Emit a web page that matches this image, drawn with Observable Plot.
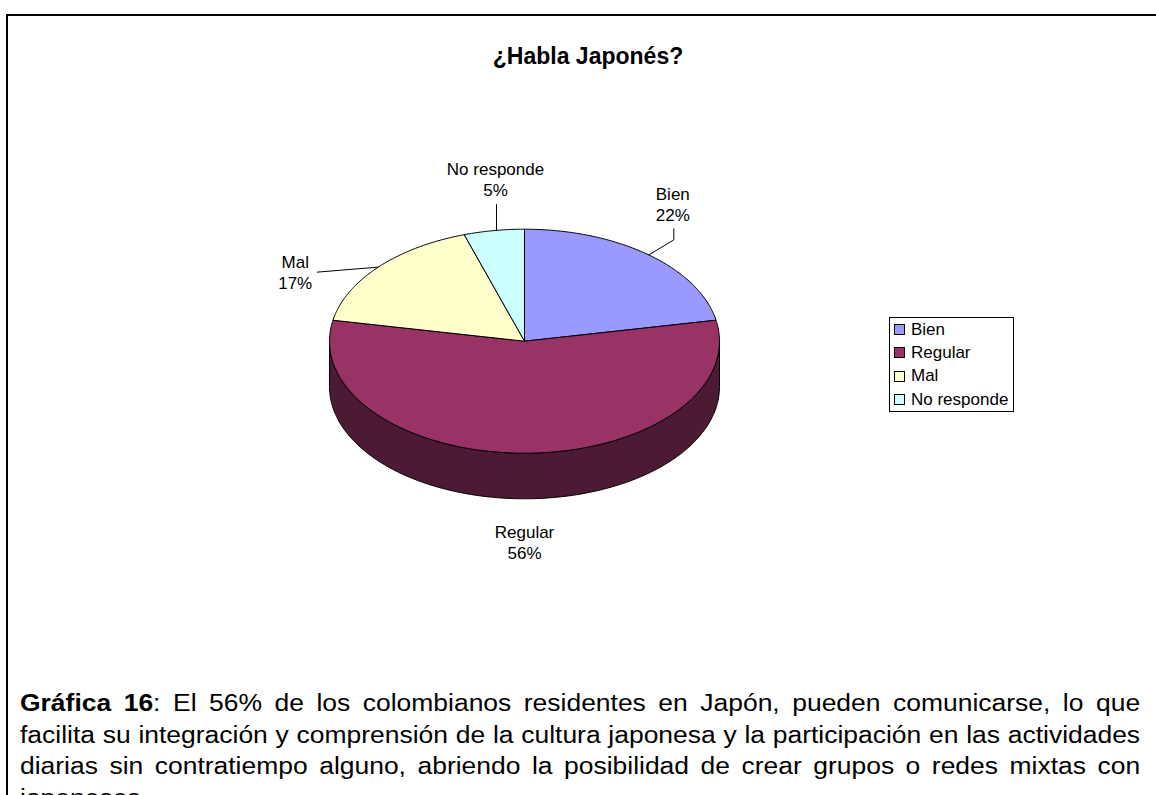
<!DOCTYPE html>
<html>
<head>
<meta charset="utf-8">
<script src="https://cdn.jsdelivr.net/npm/d3@7"></script>
<script src="https://cdn.jsdelivr.net/npm/@observablehq/plot@0.6"></script>
<style>
  html, body { margin: 0; padding: 0; background: #fff; }
  body { width: 1156px; height: 795px; overflow: hidden; position: relative;
         font-family: "Liberation Sans", Arial, Helvetica, sans-serif; color: #000; }
  #chart { position: absolute; left: 0; top: 0; }
  #frame { position: absolute; left: 6px; top: 14px; width: 1200px; height: 900px;
           border-left: 2px solid #000; border-top: 2px solid #000; box-sizing: border-box; }
  #title { position: absolute; left: 388px; width: 400px; top: 43px; text-align: center;
           font-weight: bold; font-size: 23px; line-height: 26px; }
  #legend { position: absolute; left: 889px; top: 317px; width: 125px; border: 1px solid #000;
            box-sizing: border-box; background: #fff; }
  .lg-row { height: 23.3px; display: flex; align-items: center; font-size: 17px; }
  .lg-sw { width: 9px; height: 9px; border: 1px solid #000; margin-left: 4px; margin-right: 6px; }
  #caption { position: absolute; left: 20px; top: 688px; width: 974px; font-size: 23px;
             line-height: 31.5px; transform: scaleX(1.15); transform-origin: 0 0; }
  .cl { text-align: justify; text-align-last: justify; }
  .cl.last { text-align-last: left; }
</style>
</head>
<body>
<div id="chart"></div>
<div id="frame"></div>
<div id="title"></div>
<div id="legend"></div>
<div id="caption"></div>
<script>
// ---- data ----
const chartTitle = "¿Habla Japonés?";
const categories = ["Bien", "Regular", "Mal", "No responde"];
const values = [22, 56, 17, 5];
const colors = ["#9999FF", "#993366", "#FFFFCC", "#CCFFFF"];
const captionBold = "Gráfica 16";
const captionLines = [
  ": El 56% de los colombianos residentes en Japón, pueden comunicarse, lo que",
  "facilita su integración y comprensión de la cultura japonesa y la participación en las actividades",
  "diarias sin contratiempo alguno, abriendo la posibilidad de crear grupos o redes mixtas con",
  "japoneses."
];

// ---- layout (pixel offsets of labels from each slice's mid-angle anchor) ----
const depth = 0.407;            // side height, in y-units of the pie radius
const pxX = 195, pxY = 112;     // pixels per unit radius
const labelLayout = {
  "Bien":        { text: [24, -51],  leader: [[0, 0], [25, -15], [25, -26]] },
  "Regular":     { text: [0, 89],    leader: null },
  "Mal":         { text: [-83, 5],   leader: [[0, 0], [-61, 5]] },
  "No responde": { text: [1.5, -52], leader: [[2.5, 0], [2.5, -26]] }
};

// ---- geometry from values ----
const total = d3.sum(values);
let acc = 0;
const slices = categories.map((c, i) => {
  const a0 = acc / total * 2 * Math.PI;
  acc += values[i];
  const a1 = acc / total * 2 * Math.PI;
  return { name: c, value: values[i], color: colors[i], a0, a1, mid: (a0 + a1) / 2 };
});

function arc(a0, a1, yOff = 0) {
  const n = Math.max(2, Math.ceil((a1 - a0) / 0.01));
  return d3.range(n + 1).map(k => {
    const t = a0 + (a1 - a0) * k / n;
    return { x: Math.sin(t), y: Math.cos(t) - yOff };
  });
}

const marks = [];
// sides (front half only)
for (const s of slices) {
  const lo = Math.max(s.a0, Math.PI / 2), hi = Math.min(s.a1, 3 * Math.PI / 2);
  if (hi > lo) {
    const pts = [...arc(lo, hi), ...arc(lo, hi, depth).reverse()];
    pts.push(pts[0]);
    marks.push(Plot.line(pts, { x: "x", y: "y", fill: d3.interpolateRgb(s.color, "#000")(0.5),
      stroke: "#000", strokeWidth: 1, strokeLinejoin: "round" }));
  }
}
// top faces
for (const s of slices) {
  const pts = [{ x: 0, y: 0 }, ...arc(s.a0, s.a1), { x: 0, y: 0 }];
  marks.push(Plot.line(pts, { x: "x", y: "y", fill: s.color, stroke: "#000",
    strokeWidth: 1, strokeLinejoin: "round" }));
}
// leaders + labels
const labelData = [];
for (const s of slices) {
  const ax = Math.sin(s.mid), ay = Math.cos(s.mid);
  const L = labelLayout[s.name];
  if (L.leader) {
    const pts = L.leader.map(([dx, dy]) => ({ x: ax + dx / pxX, y: ay - dy / pxY }));
    marks.push(Plot.line(pts, { x: "x", y: "y", stroke: "#000", strokeWidth: 1 }));
  }
  labelData.push({ x: ax + L.text[0] / pxX, y: ay - L.text[1] / pxY,
    text: `${s.name}\n${Math.round(s.value / total * 100)}%` });
}
marks.push(Plot.text(labelData, { x: "x", y: "y", text: "text", fontSize: 17,
  lineHeight: 1.23, textAnchor: "middle", lineAnchor: "middle", fill: "#000" }));

const plot = Plot.plot({
  width: 1156, height: 650, margin: 0,
  style: { fontFamily: "'Liberation Sans', Arial, sans-serif", background: "transparent" },
  x: { domain: [-1, 1], range: [329, 719], axis: null },
  y: { domain: [-1, 1], range: [452.7, 228.7], axis: null },
  marks
});
document.getElementById("chart").appendChild(plot);

// title
document.getElementById("title").textContent = chartTitle;

// legend
const lg = document.getElementById("legend");
categories.forEach((c, i) => {
  const row = document.createElement("div"); row.className = "lg-row";
  const sw = document.createElement("div"); sw.className = "lg-sw"; sw.style.background = colors[i];
  const tx = document.createElement("span"); tx.textContent = c;
  row.appendChild(sw); row.appendChild(tx); lg.appendChild(row);
});

// caption
const cap = document.getElementById("caption");
captionLines.forEach((line, i) => {
  const d = document.createElement("div");
  d.className = "cl" + (i === captionLines.length - 1 ? " last" : "");
  if (i === 0) {
    const b = document.createElement("b"); b.textContent = captionBold; d.appendChild(b);
  }
  d.appendChild(document.createTextNode(line));
  cap.appendChild(d);
});
</script>
</body>
</html>
